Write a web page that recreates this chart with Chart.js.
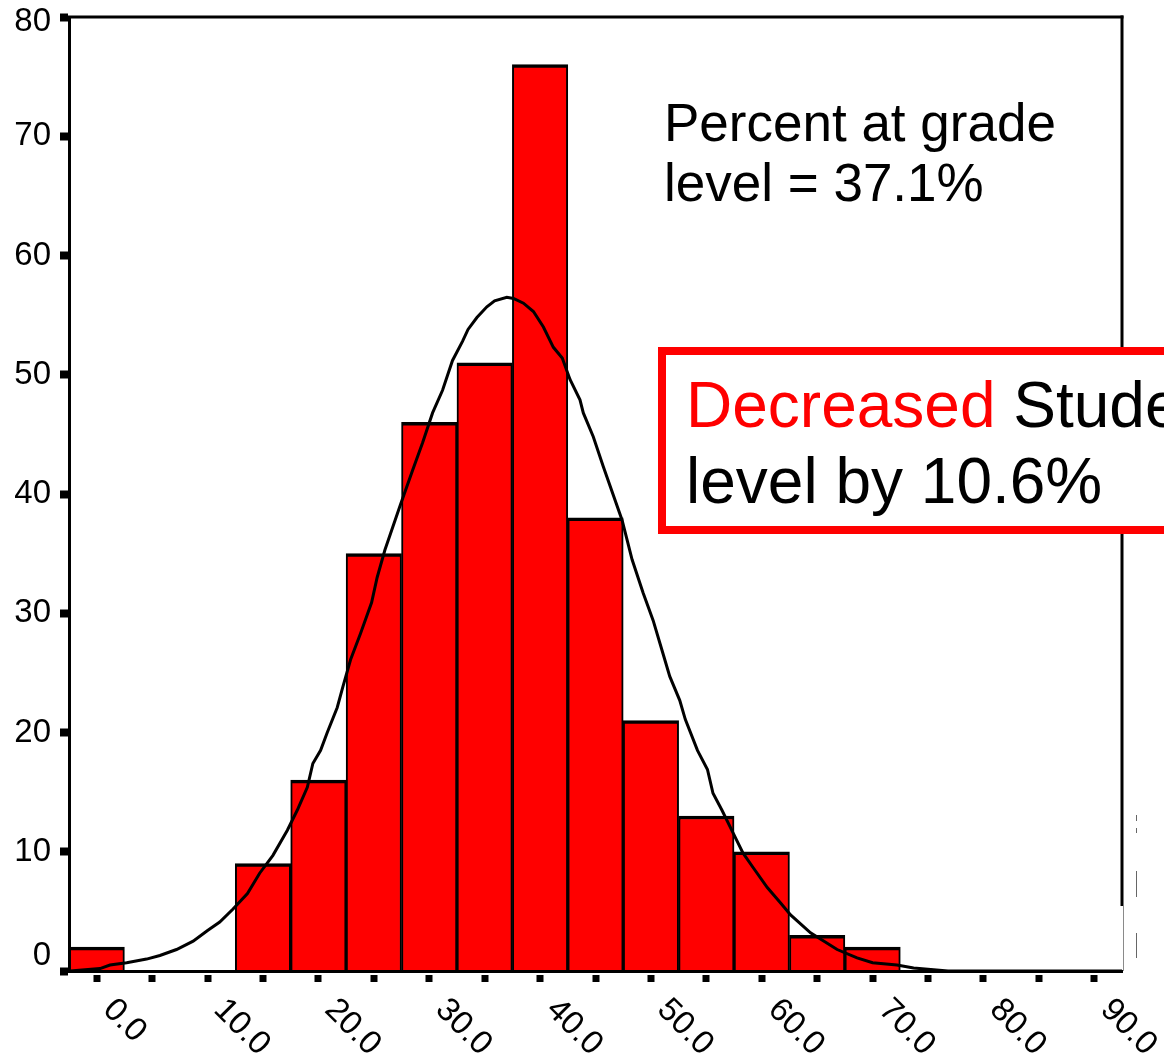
<!DOCTYPE html>
<html>
<head>
<meta charset="utf-8">
<script src="https://cdn.jsdelivr.net/npm/chart.js@4.4.1/dist/chart.umd.min.js"></script>
<style>
html,body{margin:0;padding:0;background:#fff;overflow:hidden}
#wrap{width:1164px;height:1061px;position:relative}
</style>
</head>
<body>
<div id="wrap"><canvas id="c"></canvas></div>
<script>
// ---- data ----
const binCenters = [0, 5, 10, 15, 20, 25, 30, 35, 40, 45, 50, 55, 60, 65, 70, 75, 80, 85, 90];
const counts     = [2, 0, 0, 9, 16, 35, 46, 51, 76, 38, 21, 13, 10, 3, 2, 0, 0, 0, 0];
const xTickValues = [0, 10, 20, 30, 40, 50, 60, 70, 80, 90];
const xTickLabels = ['0.0', '10.0', '20.0', '30.0', '40.0', '50.0', '60.0', '70.0', '80.0', '90.0'];
const yTicks = [0, 10, 20, 30, 40, 50, 60, 70, 80];
const curveX = [-2.4, 0.3, 1.2, 2.7, 4.5, 5.7, 7.2, 8.7, 10.0, 11.1,
                12.3, 13.6, 14.7, 15.9, 17.2, 18.1, 19.0, 19.5, 20.2, 20.8,
                21.7, 22.2, 22.9, 23.8, 24.8, 25.3, 26.0, 27.4, 28.5, 29.4,
                30.3, 31.2, 32.1, 33.0, 33.5, 34.3, 35.2, 35.9, 37.0, 37.6,
                38.5, 39.4, 40.3, 41.2, 42.0, 42.7, 43.6, 43.9, 44.8, 45.7,
                47.4, 48.3, 49.3, 50.2, 51.0, 51.7, 52.6, 53.1, 54.2, 55.1,
                55.6, 56.4, 57.4, 58.3, 59.2, 60.5, 61.7, 62.6, 64.4, 66.8,
                68.6, 70.0, 72.2, 73.7, 76.8, 92.5];
const curveY = [0.0, 0.2, 0.5, 0.7, 1.0, 1.3, 1.8, 2.5, 3.4, 4.1,
                5.2, 6.5, 8.2, 9.7, 11.8, 13.5, 15.4, 17.4, 18.5, 20.0,
                22.1, 23.8, 26.1, 28.3, 30.9, 33.0, 35.3, 39.1, 42.0, 44.3,
                46.8, 48.7, 51.2, 52.8, 53.8, 54.8, 55.7, 56.2, 56.5, 56.4,
                56.0, 55.3, 54.0, 52.3, 51.4, 49.6, 47.9, 46.8, 44.8, 42.3,
                37.8, 34.5, 31.7, 29.4, 26.9, 24.7, 22.7, 21.1, 18.5, 16.9,
                14.9, 13.5, 11.6, 9.9, 8.7, 7.0, 5.7, 4.7, 3.2, 1.8,
                1.1, 0.7, 0.5, 0.25, 0.0, 0.0];
const noteLines = ['Percent at grade', 'level = 37.1%'];
const boxRedWord = 'Decreased';
const boxRestLine1 = ' Students at grade';
const boxLine2 = 'level by 10.6%';

const FONT = '"Liberation Sans", Arial, Helvetica, sans-serif';
Chart.defaults.font.family = FONT;

const decor = {
  id: 'decor',
  afterDraw(chart) {
    const {ctx, chartArea: a, scales: {x, y}} = chart;
    ctx.save();
    // frame: top and right
    ctx.fillStyle = '#000';
    ctx.fillRect(a.left - 1.5, a.top - 1.5, a.right - a.left + 3, 3);
    ctx.fillRect(a.right - 1.5, a.top - 1.5, 3, (a.bottom - 65) - a.top + 1.5);
    ctx.fillStyle = '#8a8a8a';
    ctx.fillRect(a.right + 1, a.bottom - 65, 1, 65);
    // clipped fragments at right edge
    ctx.fillStyle = '#666';
    ctx.fillRect(a.right + 14, a.bottom - 156, 1, 6);
    ctx.fillRect(a.right + 14, a.bottom - 143, 1, 5);
    ctx.fillRect(a.right + 14, a.bottom - 100, 1, 26);
    ctx.fillRect(a.right + 14, a.bottom - 38, 1, 25);

    // y labels
    ctx.fillStyle = '#000';
    ctx.font = '33px ' + FONT;
    ctx.textAlign = 'right';
    ctx.textBaseline = 'middle';
    yTicks.forEach(v => {
      const py = y.getPixelForValue(v);
      const cy = Math.min(Math.max(py, a.top + 4.5), a.bottom - 15);
      ctx.fillText(String(v), a.left - 18, cy);
    });

    // x tick squares at bin centres
    binCenters.forEach(v => {
      const px = x.getPixelForValue(v);
      ctx.fillRect(Math.round(px) - 3.5, a.bottom + 4, 7, 7);
    });
    // x labels rotated
    ctx.textAlign = 'left';
    ctx.textBaseline = 'alphabetic';
    xTickValues.forEach((v, i) => {
      const px = x.getPixelForValue(v);
      ctx.save();
      ctx.translate(px + 5, a.bottom + 40);
      ctx.rotate(Math.PI / 4);
      ctx.fillText(xTickLabels[i], 0, 0);
      ctx.restore();
    });

    // note text
    ctx.font = '53px ' + FONT;
    ctx.fillStyle = '#000';
    ctx.fillText(noteLines[0], 664, 141);
    ctx.fillText(noteLines[1], 664, 201);

    // red box
    ctx.fillStyle = '#fff';
    ctx.fillRect(662, 351, 620, 179);
    ctx.strokeStyle = '#ff0000';
    ctx.lineWidth = 8;
    ctx.strokeRect(662, 351, 620, 179);
    ctx.font = '64px ' + FONT;
    ctx.fillStyle = '#ff0000';
    ctx.fillText(boxRedWord, 686, 427);
    const w = ctx.measureText(boxRedWord).width;
    ctx.fillStyle = '#000';
    ctx.fillText(boxRestLine1, 686 + w, 427);
    ctx.fillText(boxLine2, 686, 503);
    ctx.restore();
  }
};

new Chart(document.getElementById('c'), {
  type: 'bar',
  data: {
    datasets: [
      {
        type: 'line',
        data: curveX.map((vx, i) => ({x: vx, y: curveY[i]})),
        borderColor: '#000',
        borderWidth: 3,
        pointRadius: 0,
        tension: 0,
        fill: false,
        order: 0
      },
      {
        type: 'bar',
        data: binCenters.map((c, i) => ({x: c, y: counts[i]})),
        backgroundColor: '#ff0000',
        borderColor: '#000',
        borderWidth: {top: 3.5, right: 2, bottom: 0, left: 2},
        borderSkipped: 'start',
        barPercentage: 1,
        categoryPercentage: 1,
        order: 1
      }
    ]
  },
  options: {
    responsive: true,
    maintainAspectRatio: false,
    animation: false,
    devicePixelRatio: 1,
    layout: {padding: {top: 17, right: 42, left: 0, bottom: 0}},
    plugins: {legend: {display: false}, tooltip: {enabled: false}},
    scales: {
      x: {
        type: 'linear', min: -2.5, max: 92.5, offset: false,
        afterBuildTicks: s => { s.ticks = binCenters.map(v => ({value: v})); },
        grid: {display: false},
        border: {display: true, color: '#000', width: 3, z: 1},
        ticks: {display: false},
        afterFit: s => { s.height = 90; }
      },
      y: {
        type: 'linear', min: 0, max: 80,
        afterBuildTicks: s => { s.ticks = yTicks.map(v => ({value: v})); },
        grid: {display: true, drawOnChartArea: false, drawTicks: true, color: '#000',
               tickColor: '#000', tickWidth: 8, tickLength: 9},
        border: {display: true, color: '#000', width: 3, z: 1},
        ticks: {display: false},
        afterFit: s => { s.width = 69; }
      }
    }
  },
  plugins: [decor]
});
</script>
</body>
</html>
